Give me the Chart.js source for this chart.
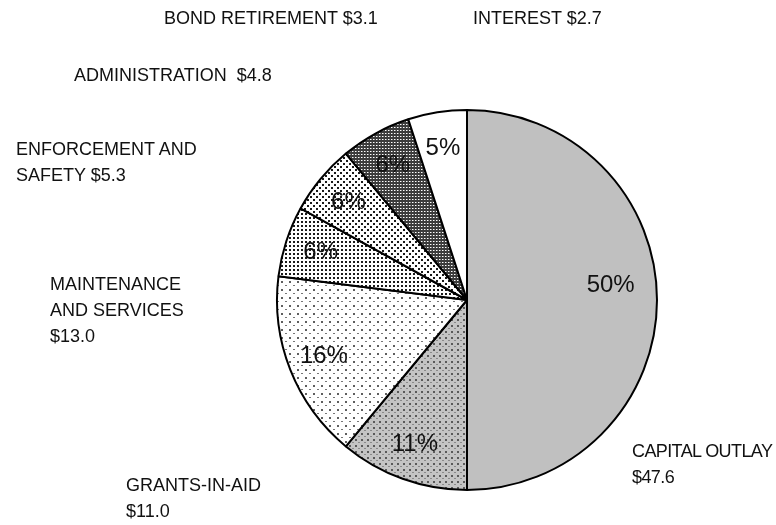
<!DOCTYPE html>
<html lang="en">
<head>
  <meta charset="UTF-8">
  <title>Expenditures</title>
  <script src="https://cdn.jsdelivr.net/npm/chart.js"></script>
  <style>
    body {
      margin: 0;
      background: #ffffff;
    }
    .wrap {
      position: relative;
      width: 776px;
      height: 525px;
      overflow: hidden;
    }
    canvas {
      position: absolute;
      left: 0;
      top: 0;
    }
    .lbl {
      position: absolute;
      font-family: "Liberation Sans", Arial, sans-serif;
      font-size: 18px;
      line-height: 26px;
      color: #111;
      white-space: nowrap;
    }
    .tight {
      letter-spacing: -0.6px;
    }
  </style>
</head>
<body>
  <div class="wrap">
    <canvas id="pie" width="776" height="525"></canvas>
    <div class="lbl" style="left:164px; top:5px;">BOND RETIREMENT $3.1</div>
    <div class="lbl" style="left:473px; top:5px;">INTEREST $2.7</div>
    <div class="lbl" style="left:74px; top:62px;">ADMINISTRATION&nbsp; $4.8</div>
    <div class="lbl" style="left:16px; top:136px;">ENFORCEMENT AND<br>SAFETY $5.3</div>
    <div class="lbl" style="left:50px; top:271px;">MAINTENANCE<br>AND SERVICES<br>$13.0</div>
    <div class="lbl" style="left:126px; top:472px;">GRANTS-IN-AID<br>$11.0</div>
    <div class="lbl tight" style="left:632px; top:438px;">CAPITAL OUTLAY<br>$47.6</div>
  </div>

  <script>
    // slices clockwise from 12 o'clock
    const categories = ['Capital Outlay', 'Grants-in-Aid', 'Maintenance and Services',
      'Enforcement and Safety', 'Administration', 'Bond Retirement', 'Interest'];
    const percents = [50, 11, 16, 6, 6, 6, 5];
    const amounts = [47.6, 11.0, 13.0, 5.3, 4.8, 3.1, 2.7];

    // small tiles for the hatch / dot fills
    function makePattern(size, bg, dots) {
      const c = document.createElement('canvas');
      c.width = size;
      c.height = size;
      const g = c.getContext('2d');
      g.fillStyle = bg;
      g.fillRect(0, 0, size, size);
      dots.forEach(d => {
        g.fillStyle = d[4];
        g.fillRect(d[0], d[1], d[2], d[3]);
      });
      return g.createPattern(c, 'repeat');
    }

    const ctx = document.getElementById('pie').getContext('2d');

    const fills = [
      '#c0c0c0',
      makePattern(6, '#c4c4c4', [[1, 1, 2, 2, '#5a5a5a'], [4, 4, 2, 1, '#8a8a8a']]),
      makePattern(8, '#ffffff', [[1, 1, 2, 2, '#5e5e5e'], [5, 5, 2, 1, '#777777']]),
      makePattern(4, '#ffffff', [[1, 1, 2, 2, '#1a1a1a']]),
      makePattern(6, '#ffffff', [[1, 1, 2, 2, '#1a1a1a'], [4, 4, 2, 2, '#1a1a1a']]),
      makePattern(3, '#3c3c3c', [[1, 1, 1, 1, '#ffffff'], [2, 1, 1, 1, '#9a9a9a']]),
      '#ffffff'
    ];

    // percentage text inside each slice
    const pctLabels = {
      id: 'pctLabels',
      afterDatasetsDraw(chart) {
        const g = chart.ctx;
        const meta = chart.getDatasetMeta(0);
        g.save();
        g.font = '24px "Liberation Sans", Arial, sans-serif';
        g.fillStyle = '#111111';
        g.textAlign = 'center';
        g.textBaseline = 'middle';
        meta.data.forEach((arc, i) => {
          let ang = (arc.startAngle + arc.endAngle) / 2;
          let frac = 0.81;
          if (i === 0) {
            ang -= 0.1;
            frac = 0.76;
          }
          const r = arc.outerRadius * frac;
          g.fillText(percents[i] + '%', arc.x + Math.cos(ang) * r, arc.y + Math.sin(ang) * r);
        });
        g.restore();
      }
    };

    new Chart(ctx, {
      type: 'pie',
      data: {
        labels: categories,
        datasets: [{
          data: percents,
          backgroundColor: fills,
          borderColor: '#000000',
          borderWidth: 2
        }]
      },
      options: {
        responsive: false,
        animation: false,
        layout: {
          padding: { left: 276, right: 118, top: 109, bottom: 34 }
        },
        plugins: {
          legend: { display: false },
          tooltip: { enabled: false }
        }
      },
      plugins: [pctLabels]
    });
  </script>
</body>
</html>
